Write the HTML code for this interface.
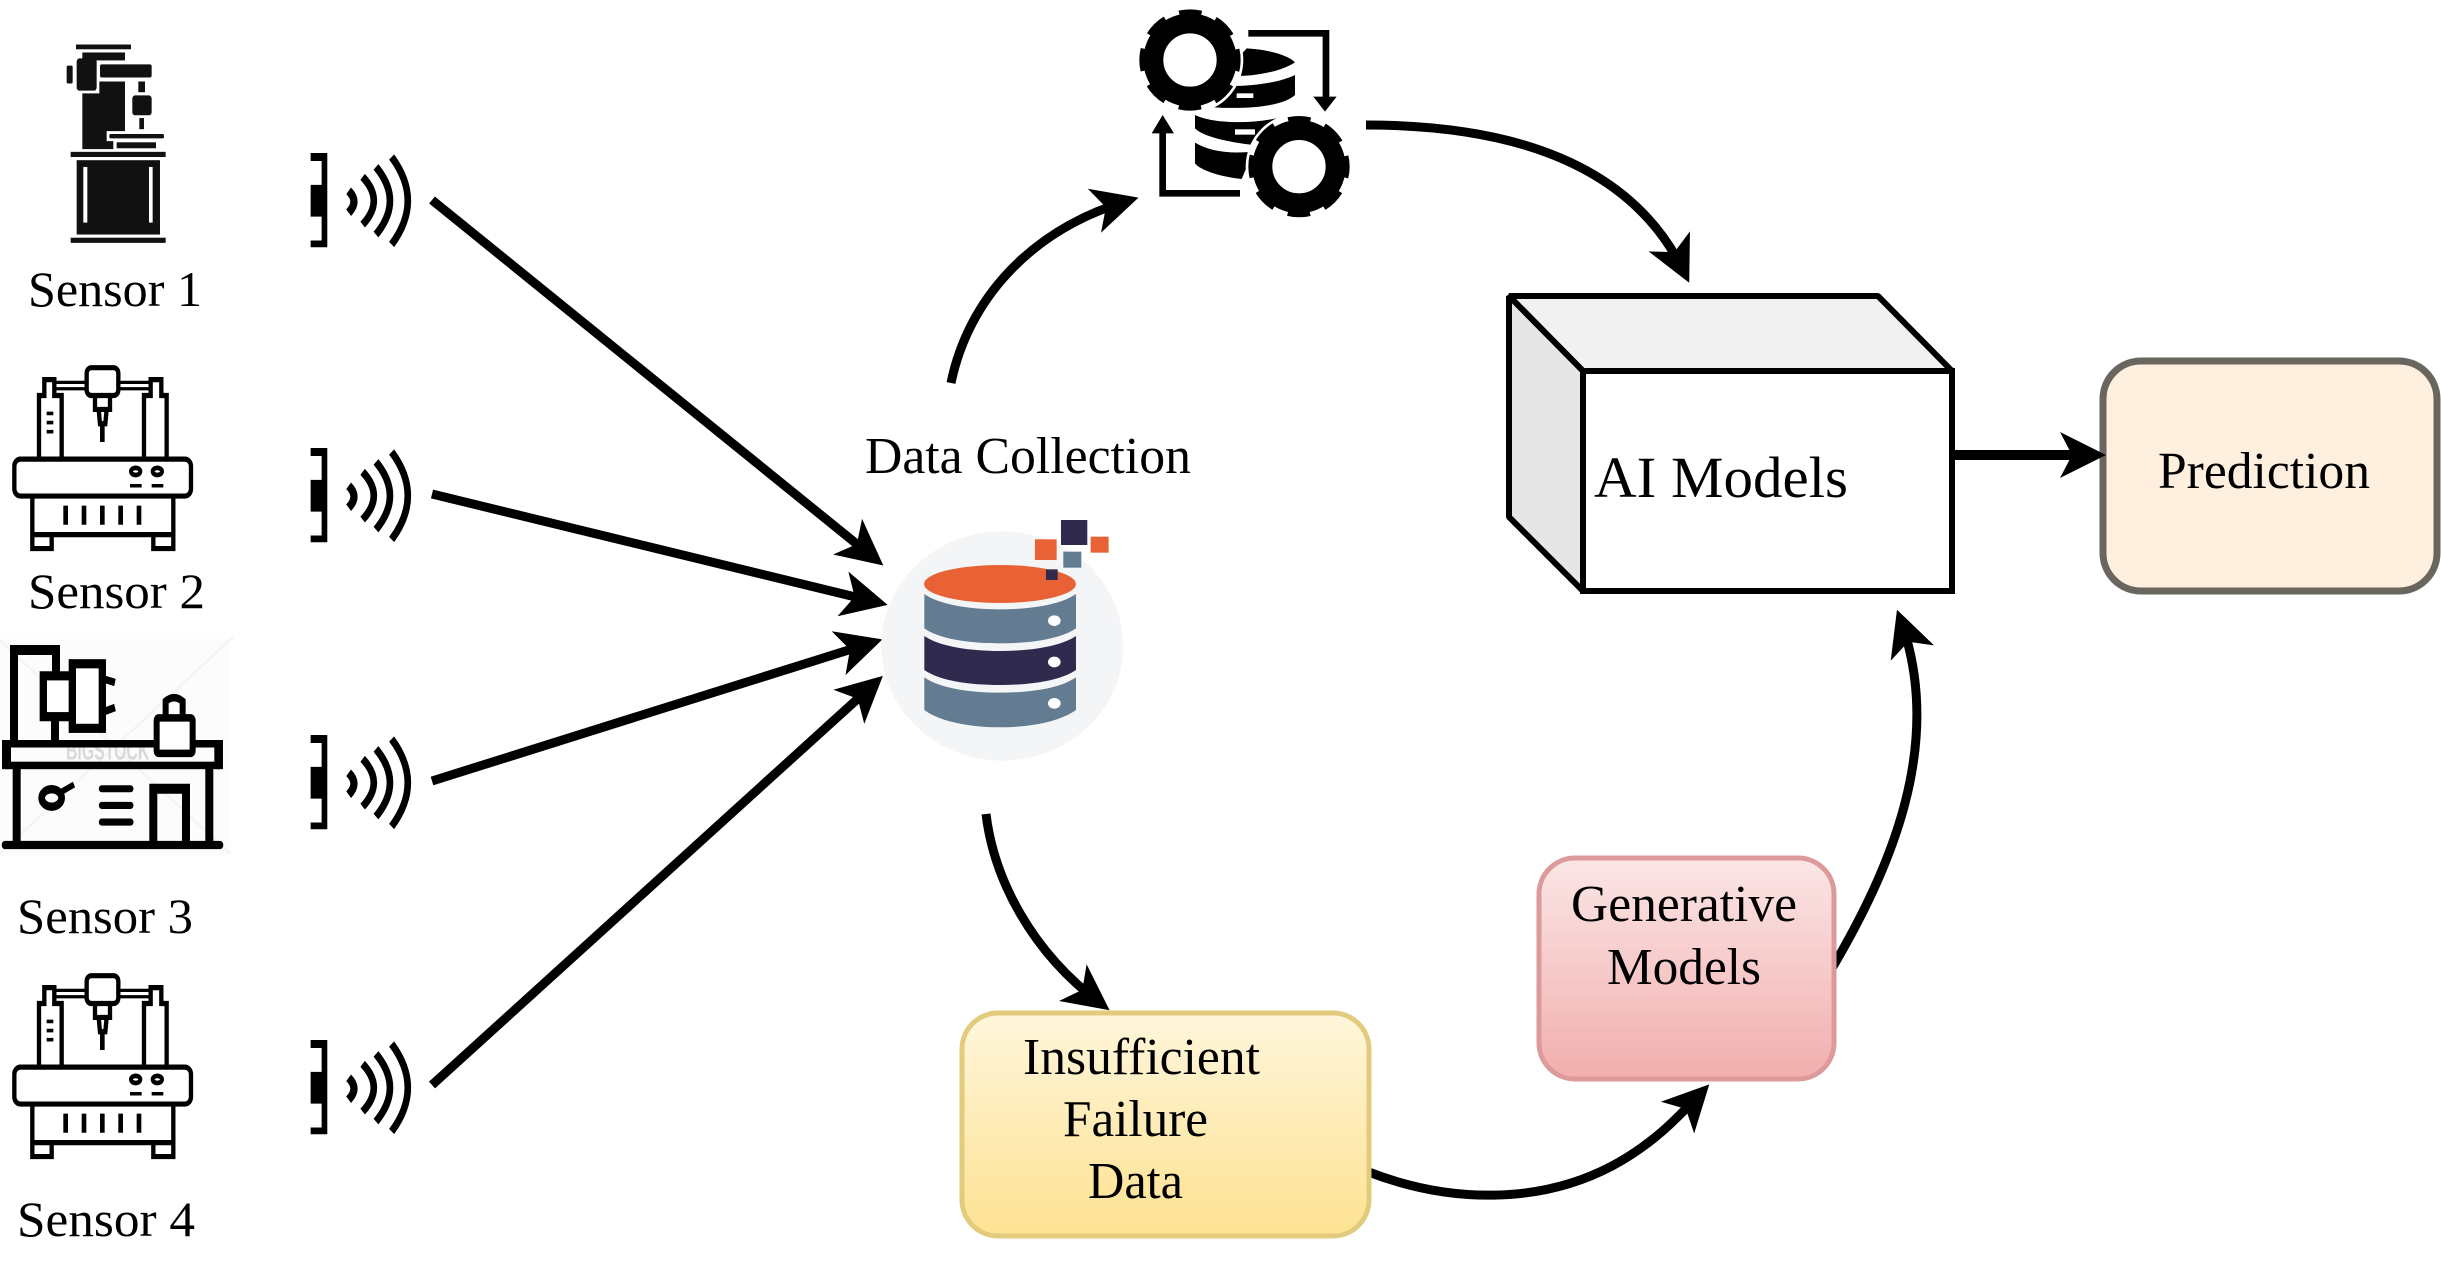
<!DOCTYPE html>
<html>
<head>
<meta charset="utf-8">
<style>
html,body{margin:0;padding:0;background:#fff}
svg{display:block}
text{font-family:"Liberation Serif",serif;fill:#000}
</style>
</head>
<body>
<svg width="2441" height="1261" viewBox="0 0 2441 1261" xmlns="http://www.w3.org/2000/svg">
<defs>
<marker id="a" markerUnits="userSpaceOnUse" markerWidth="60" markerHeight="60" refX="34" refY="30" orient="auto" overflow="visible">
<path d="M0,7 L46,30 L0,53 L12,30 Z" fill="#000"/>
</marker>
<linearGradient id="y" x1="0" y1="0" x2="0" y2="1"><stop offset="0" stop-color="#fff6dc"/><stop offset="1" stop-color="#fde291"/></linearGradient>
<linearGradient id="p" x1="0" y1="0" x2="0" y2="1"><stop offset="0" stop-color="#fbe6e6"/><stop offset="1" stop-color="#f2aeae"/></linearGradient>
<g id="signal">
<path d="M932,385H982V622H932V605H965V545H932V465H965V405H932Z" fill="#000"/>
<g fill="none" stroke="#000" stroke-width="20">
<path d="M1046,480Q1078,507 1046,535" stroke-width="22"/>
<path d="M1088,445Q1155,505 1088,565"/>
<path d="M1128,420Q1212,505 1128,590"/>
<path d="M1175,395Q1272,505 1175,615"/>
</g>
</g>
<g id="robot" fill="none" stroke="#000" stroke-width="13">
<rect x="43" y="1155" width="530" height="93" rx="18"/>
<path d="M117,1150V995H133V955H163V995H185V1150"/>
<path d="M432,1150V995H452V955H484V995H500V1150"/>
<path d="M165,962H262M165,978H262M353,962H450M353,978H450" stroke-width="8"/>
<rect x="260" y="925" width="95" height="70" rx="14"/>
<path d="M285,995V1030H330V995M296,1030L300,1066H316L320,1030"/>
<path d="M307,1066V1112" stroke-width="14"/>
<path d="M140,1040H160M140,1063H160M140,1086H160" stroke-width="9"/>
<ellipse cx="407" cy="1186" rx="14" ry="9" stroke-width="12"/>
<ellipse cx="472" cy="1186" rx="14" ry="9" stroke-width="12"/>
<path d="M390,1222H425M455,1222H490" stroke-width="9"/>
<path d="M97,1248V1380H155V1345M97,1345H520M520,1248V1380H460V1345"/>
<path d="M197,1272V1320M252,1272V1320M307,1272V1320M362,1272V1320M417,1272V1320" stroke-width="14"/>
</g>
</defs>

<!-- Sensor 1 drill icon -->
<g transform="scale(.3333,.3975)" fill="#111">
<rect x="228" y="112" width="165" height="12"/>
<rect x="247" y="132" width="128" height="20"/>
<rect x="200" y="165" width="18" height="45" rx="4"/>
<rect x="230" y="147" width="60" height="81" rx="8"/>
<rect x="300" y="162" width="155" height="33" rx="5"/>
<path d="M247,235H298V205H375V330H320V355H340V375H247Z"/>
<rect x="415" y="205" width="20" height="27"/>
<rect x="397" y="240" width="58" height="50" rx="8"/>
<rect x="418" y="297" width="14" height="28"/>
<rect x="328" y="337" width="164" height="11" rx="4"/>
<rect x="350" y="358" width="118" height="15"/>
<rect x="212" y="382" width="285" height="13"/>
<rect x="230" y="403" width="250" height="187"/>
<rect x="250" y="420" width="12" height="140" fill="#fff"/>
<rect x="447" y="420" width="11" height="140" fill="#fff"/>
<rect x="212" y="598" width="285" height="13"/>
</g>

<!-- Sensor 2 & 4 robot icons -->
<g transform="scale(.3333,.3975)"><use href="#robot"/></g>
<g transform="translate(0,608) scale(.3333,.3975)"><use href="#robot"/></g>

<!-- Sensor 3 icon -->
<g transform="translate(0,620) scale(.3333,.4167)">
<rect x="0" y="45" width="690" height="520" fill="#fcfcfc"/>
<path d="M0,50L690,560M700,40L0,560" stroke="#f3f3f3" stroke-width="6" fill="none"/>
<text x="198" y="335" font-size="62" textLength="250" lengthAdjust="spacingAndGlyphs" style="font-family:'Liberation Sans',sans-serif;font-weight:bold;fill:#d8d8d8">BIGSTOCK</text>
<g fill="none" stroke="#000" stroke-width="24">
<path d="M42,290V72H168V130M165,235V290"/>
<rect x="130" y="134" width="90" height="98" fill="#fff" stroke-width="22"/>
<rect x="217" y="105" width="90" height="155" fill="#fff" stroke-width="22"/>
<path d="M305,140L345,150M305,222L345,210" stroke-width="18"/>
<rect x="24" y="297" width="628" height="52" stroke-width="18"/>
<path d="M17,288V358M658,288V358" stroke-width="22"/>
<path d="M50,350V540M628,350V540"/>
<path d="M15,540H660" stroke-width="20" stroke-linecap="round"/>
<path d="M460,540V405H558V540" stroke-width="24"/>
<path d="M305,405H392M305,445H392M305,485H392" stroke-width="17" stroke-linecap="round"/>
<ellipse cx="155" cy="427" rx="30" ry="21" stroke-width="20"/>
<path d="M185,412L222,395" stroke-width="15"/>
<rect x="470" y="235" width="108" height="85" rx="6" fill="#fff" stroke-width="18"/>
<path d="M497,235V195Q522,178 548,195V235" stroke-width="18"/>
</g>
</g>

<!-- Sensor labels -->
<text x="28" y="306" font-size="50" textLength="174" lengthAdjust="spacingAndGlyphs">Sensor 1</text>
<text x="28" y="608" font-size="50" textLength="177" lengthAdjust="spacingAndGlyphs">Sensor 2</text>
<text x="17" y="933" font-size="50" textLength="176" lengthAdjust="spacingAndGlyphs">Sensor 3</text>
<text x="17" y="1236" font-size="50" textLength="178" lengthAdjust="spacingAndGlyphs">Sensor 4</text>

<!-- Signal icons -->
<g transform="translate(0,0) scale(.3333,.3975)"><use href="#signal"/></g>
<g transform="translate(0,295) scale(.3333,.3975)"><use href="#signal"/></g>
<g transform="translate(0,582) scale(.3333,.3975)"><use href="#signal"/></g>
<g transform="translate(0,887) scale(.3333,.3975)"><use href="#signal"/></g>

<!-- Straight arrows -->
<g fill="none" stroke="#000" stroke-width="9">
<path d="M432,200L874,558" marker-end="url(#a)"/>
<path d="M432,494L876,602" marker-end="url(#a)"/>
<path d="M432,781L871,643" marker-end="url(#a)"/>
<path d="M432,1085L874,684" marker-end="url(#a)"/>
<!-- Curves -->
<path d="M951,383C968,300 1030,230 1127,201" marker-end="url(#a)"/>
<path d="M1366,125C1505,125 1630,160 1684,272" marker-end="url(#a)"/>
<path d="M986,814C994,880 1032,952 1100,1003" marker-end="url(#a)"/>
<path d="M1366,1171C1450,1204 1540,1204 1612,1166C1655,1143 1680,1115 1701,1093" marker-end="url(#a)"/>
<path d="M1831,970C1890,870 1945,745 1901,621" marker-end="url(#a)"/>
</g>

<!-- Database icon -->
<g transform="translate(840,480) scale(.3333)">
<ellipse cx="487" cy="498" rx="363" ry="344" fill="#f4f5f7"/>
<ellipse cx="480" cy="312" rx="228" ry="57" fill="#e86236"/>
<path d="M253,342C300,375 390,388 480,388C570,388 660,375 708,342V445C660,478 570,490 480,490C390,490 300,478 253,445Z" fill="#637c91"/>
<path d="M253,468C300,500 390,513 480,513C570,513 660,500 708,468V570C660,603 570,615 480,615C390,615 300,603 253,570Z" fill="#302a4f"/>
<path d="M253,592C300,625 390,638 480,638C570,638 660,625 708,592V690C660,725 570,742 480,742C390,742 300,725 253,690Z" fill="#637c91"/>
<ellipse cx="643" cy="422" rx="19" ry="16" fill="#fff"/>
<ellipse cx="643" cy="546" rx="19" ry="16" fill="#fff"/>
<ellipse cx="643" cy="670" rx="19" ry="16" fill="#fff"/>
<rect x="585" y="178" width="65" height="62" fill="#e86236"/>
<rect x="663" y="120" width="79" height="75" fill="#302a4f"/>
<rect x="752" y="170" width="54" height="48" fill="#e86236"/>
<rect x="670" y="215" width="54" height="48" fill="#637c91"/>
<rect x="618" y="268" width="35" height="32" fill="#302a4f"/>
</g>
<text x="865" y="473" font-size="52" textLength="326" lengthAdjust="spacingAndGlyphs">Data Collection</text>

<!-- Gears + DB icon -->
<g transform="translate(1100,0) scale(.3333)">
<path d="M440,145C500,148 565,165 585,187C550,210 490,225 420,228L400,190Z" fill="#000"/>
<path d="M400,258C470,258 545,245 585,225V285C560,310 480,330 340,322L360,290Z" fill="#000"/>
<path d="M285,345C340,372 470,375 570,345L530,375L490,390L460,435C380,425 310,410 285,385Z" fill="#000"/>
<path d="M285,428C330,455 390,462 460,455L425,537C360,530 300,510 285,490Z" fill="#000"/>
<rect x="410" y="280" width="50" height="14" fill="#fff"/>
<rect x="405" y="388" width="60" height="16" fill="#fff"/>
<circle cx="270" cy="180" r="160" fill="#fff"/>
<circle cx="597" cy="500" r="160" fill="#fff"/>
<g fill="none" stroke="#000">
<circle cx="270" cy="180" r="110" stroke-width="60"/>
<circle cx="270" cy="180" r="136" stroke-width="32" stroke-dasharray="64 42.8" stroke-dashoffset="32"/>
<circle cx="597" cy="500" r="110" stroke-width="60"/>
<circle cx="597" cy="500" r="136" stroke-width="32" stroke-dasharray="64 42.8" stroke-dashoffset="32"/>
<path d="M445,100H678V300" stroke-width="20"/>
<path d="M420,580H188V390" stroke-width="20"/>
</g>
<path d="M640,290H710L675,335Z" fill="#000"/>
<path d="M155,400H222L188,345Z" fill="#000"/>
</g>

<!-- AI Models cube -->
<path d="M1509,296H1878L1952,371H1583Z" fill="#f1f1f1" stroke="#000" stroke-width="6" stroke-linejoin="bevel"/>
<path d="M1509,296L1583,371V591L1509,517Z" fill="#e6e6e6" stroke="#000" stroke-width="6" stroke-linejoin="bevel"/>
<rect x="1583" y="371" width="369" height="220" fill="#fff" stroke="#000" stroke-width="6"/>
<text x="1594" y="497" font-size="58" textLength="254" lengthAdjust="spacingAndGlyphs">AI Models</text>

<!-- Prediction -->
<rect x="2103" y="361" width="334" height="230" rx="38" fill="#ffefdf" stroke="#696660" stroke-width="7"/>
<text x="2158" y="488" font-size="52" textLength="212" lengthAdjust="spacingAndGlyphs">Prediction</text>
<path d="M1953,455H2094" stroke="#000" stroke-width="10" fill="none" marker-end="url(#a)"/>

<!-- Insufficient Failure Data -->
<rect x="962" y="1013" width="407" height="223" rx="36" fill="url(#y)" stroke="#e3cb7e" stroke-width="5"/>
<text x="1023" y="1074" font-size="52" textLength="237" lengthAdjust="spacingAndGlyphs">Insufficient</text>
<text x="1063" y="1136" font-size="52" textLength="145" lengthAdjust="spacingAndGlyphs">Failure</text>
<text x="1088" y="1198" font-size="52" textLength="95" lengthAdjust="spacingAndGlyphs">Data</text>

<!-- Generative Models -->
<rect x="1539" y="858" width="295" height="221" rx="36" fill="url(#p)" stroke="#dd9a9a" stroke-width="5"/>
<text x="1571" y="921" font-size="52" textLength="226" lengthAdjust="spacingAndGlyphs">Generative</text>
<text x="1607" y="984" font-size="52" textLength="154" lengthAdjust="spacingAndGlyphs">Models</text>
</svg>
</body>
</html>
